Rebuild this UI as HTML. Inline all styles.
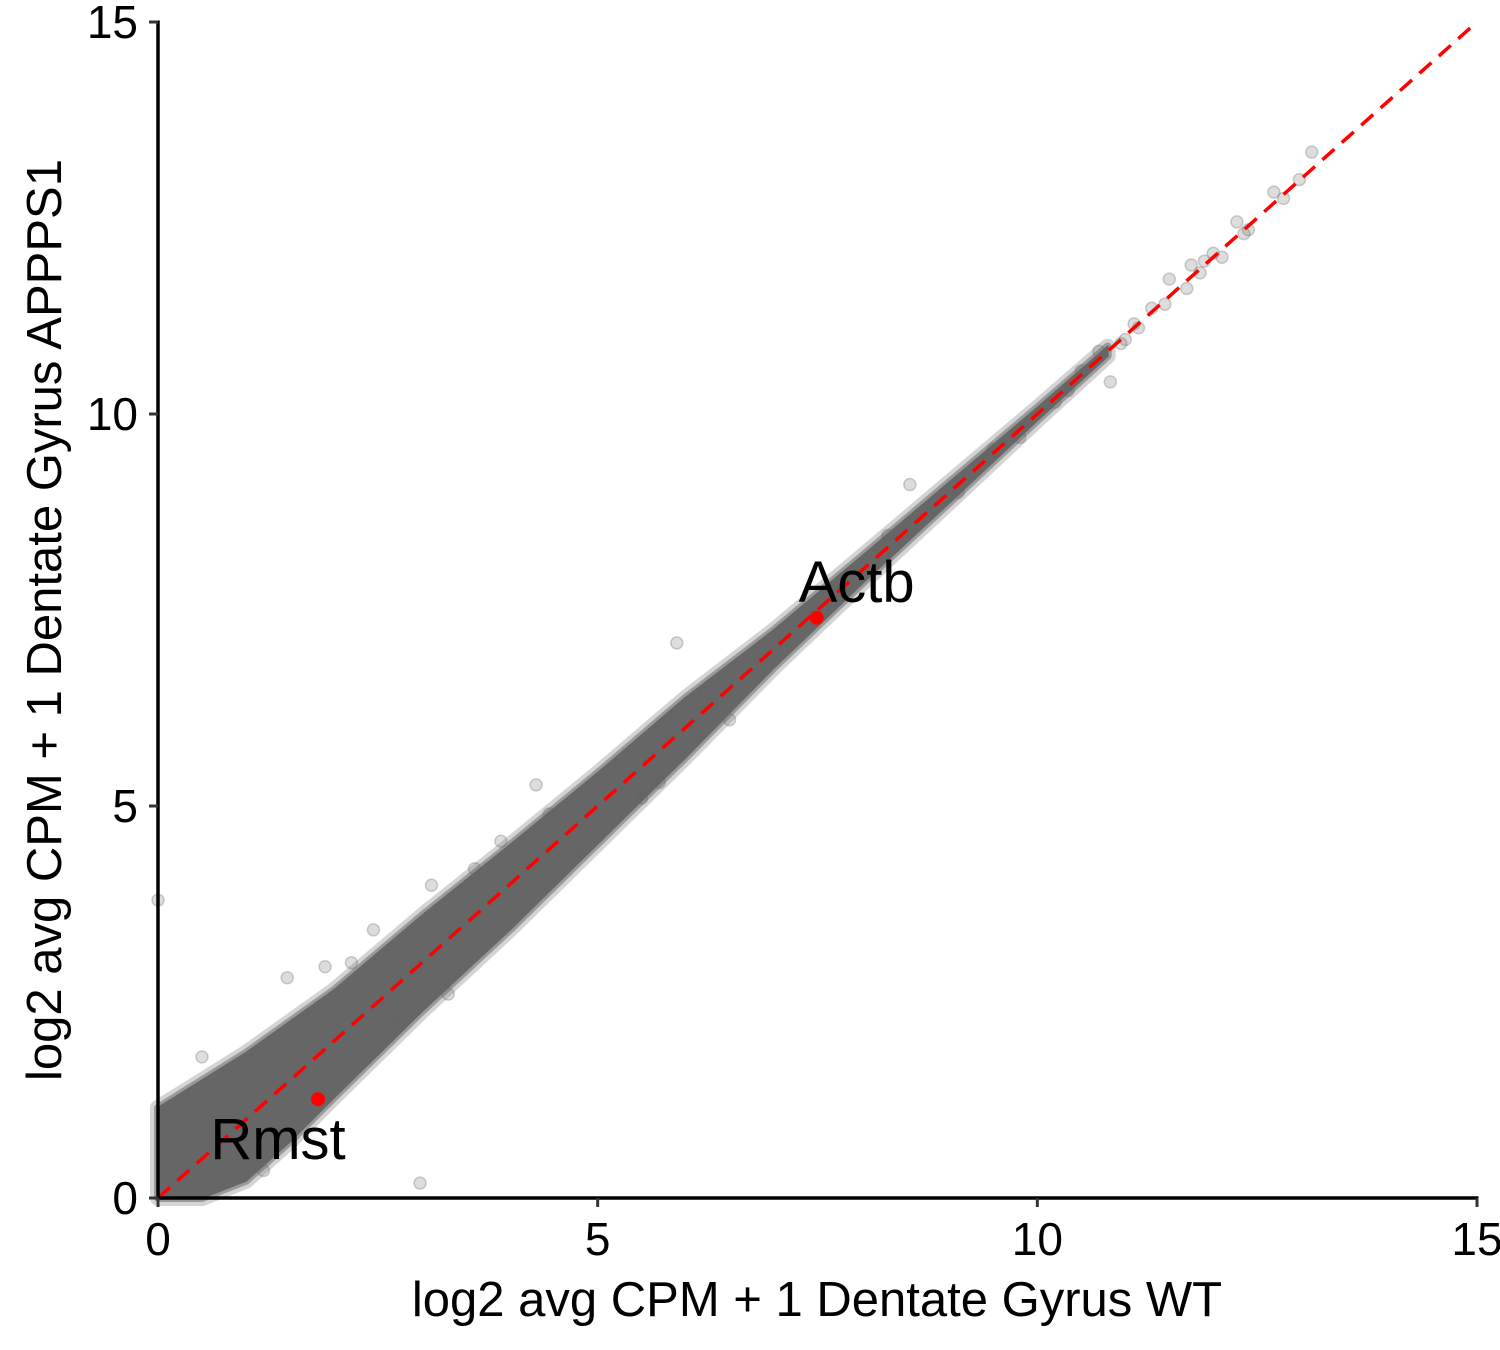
<!DOCTYPE html>
<html><head><meta charset="utf-8"><style>
html,body{margin:0;padding:0;background:#fff;}
svg{display:block;font-family:"Liberation Sans",Arial,sans-serif;}
</style></head><body>
<svg id="chart" width="1500" height="1350" viewBox="0 0 1500 1350" xmlns="http://www.w3.org/2000/svg">
<g id="band"></g>
<g id="pts"></g>
<g id="line"></g>
<g id="hl"></g>
<g id="axes"></g>
</svg>
<script>
// band of dense points: x, lower y, upper y
const bandX  = [0, 0.5, 1, 1.5, 2, 3, 4, 5, 6, 7, 8, 9, 10, 10.8];
const bandLo = [0, 0, 0.22, 0.72, 1.28, 2.38, 3.42, 4.52, 5.62, 6.76, 7.83, 8.87, 9.92, 10.74];
const bandHi = [1.15, 1.5, 1.85, 2.25, 2.65, 3.6, 4.5, 5.42, 6.38, 7.24, 8.18, 9.13, 10.08, 10.86];
// individual sparse / outlier points
const ptX = [0, 2.98, 5.9, 8.55, 10.83, 13.12, 12.69, 12.98, 12.27, 3.11, 2.45, 1.47, 4.3, 11.5, 11.75, 11.0, 10.5, 10.2, 11.3, 12.0, 12.4, 9.5, 9.8, 10.7, 11.9, 8.3, 6.2, 3.6, 2.2, 1.9, 4.8, 0.5, 3.3, 5.5, 7.2, 9.1, 10.35, 11.15, 11.1, 11.45, 11.7, 12.1, 12.35, 12.8, 11.85, 10.95, 4.45, 5.7, 6.5, 2.7, 1.2, 3.9];
const ptY = [3.8, 0.19, 7.08, 9.1, 10.41, 13.34, 12.83, 12.99, 12.45, 3.99, 3.42, 2.81, 5.27, 11.72, 11.9, 10.95, 10.55, 10.15, 11.35, 12.05, 12.35, 9.55, 9.7, 10.8, 11.95, 8.45, 6.45, 4.2, 3.0, 2.95, 4.4, 1.8, 2.6, 5.1, 7.3, 9.0, 10.3, 11.1, 11.15, 11.4, 11.6, 12.0, 12.3, 12.75, 11.8, 10.9, 4.9, 5.3, 6.1, 2.25, 0.35, 4.55];
// highlighted genes
const hlNames = ["Actb", "Rmst"];
const hlX = [7.49, 1.82];
const hlY = [7.40, 1.26];
const xTicks = [0, 5, 10, 15];
const yTicks = [0, 5, 10, 15];

const NS = "http://www.w3.org/2000/svg";
const X0 = 158, X1 = 1477, Y0 = 1198, Y1 = 22;
const sx = v => X0 + (X1 - X0) * v / 15;
const sy = v => Y0 - (Y0 - Y1) * v / 15;
function mk(tag, attrs, parent) {
  const e = document.createElementNS(NS, tag);
  for (const k in attrs) e.setAttribute(k, attrs[k]);
  parent.appendChild(e);
  return e;
}
// band
const band = document.getElementById("band");
let d = "";
bandX.forEach((x, i) => { d += (i ? "L" : "M") + sx(x) + "," + sy(bandHi[i]); });
for (let i = bandX.length - 1; i >= 0; i--) d += "L" + sx(bandX[i]) + "," + sy(bandLo[i]);
d += "Z";
const halo = mk("path", {d: d, fill: "#d6d6d6", stroke: "#d4d4d4", "stroke-width": 16, "stroke-linejoin": "round"}, band);


const mid = mk("path", {d: d, fill: "#999", stroke: "#9a9a9a", "stroke-width": 8, "stroke-linejoin": "round"}, band);


const core = mk("path", {d: d, fill: "#666", stroke: "#666", "stroke-width": 2, "stroke-linejoin": "round"}, band);


// points
const pts = document.getElementById("pts");
ptX.forEach((x, i) => {
  const c = mk("circle", {cx: sx(x), cy: sy(ptY[i]), r: 6, fill: "rgba(102,102,102,0.22)", stroke: "rgba(102,102,102,0.3)", "stroke-width": 1.5}, pts);
  
  
});
// identity line
const lg = document.getElementById("line");
const ln = mk("line", {x1: sx(0), y1: sy(0), x2: sx(15), y2: sy(15), stroke: "#ff0000", "stroke-width": 3.5, "stroke-dasharray": "16,10"}, lg);


// highlights
const hl = document.getElementById("hl");
hlNames.forEach((n, i) => {
  const c = mk("circle", {cx: sx(hlX[i]), cy: sy(hlY[i]), r: 7, fill: "#ff0000"}, hl);
  
  
  const dy = i === 0 ? -16 : 60;
  const dx = i === 0 ? 40 : -40;
  const t = mk("text", {x: sx(hlX[i]) + dx, y: sy(hlY[i]) + dy, "font-size": 58, "text-anchor": "middle", fill: "#000"}, hl);
  t.textContent = n;
  
  
});
// axes
const ax = document.getElementById("axes");
const xl = mk("line", {x1: X0 - 1.5, y1: Y0, x2: X1 + 1.5, y2: Y0, stroke: "#000", "stroke-width": 3.5}, ax);


const yl = mk("line", {x1: X0, y1: Y0 + 1.5, x2: X0, y2: Y1 - 1.5, stroke: "#000", "stroke-width": 3.5}, ax);


xTicks.forEach(v => {
  const tk = mk("line", {x1: sx(v), y1: Y0, x2: sx(v), y2: Y0 + 9, stroke: "#333", "stroke-width": 3}, ax);
  
  
  const t = mk("text", {x: sx(v), y: Y0 + 57, "font-size": 46, "text-anchor": "middle", fill: "#000"}, ax);
  t.textContent = v;
  
  
});
yTicks.forEach(v => {
  const tk = mk("line", {x1: X0 - 9, y1: sy(v), x2: X0, y2: sy(v), stroke: "#333", "stroke-width": 3}, ax);
  
  
  const t = mk("text", {x: X0 - 20, y: sy(v) + 16, "font-size": 46, "text-anchor": "end", fill: "#000"}, ax);
  t.textContent = v;
  
  
});
const xt = mk("text", {x: 817, y: 1316, "font-size": 49, "text-anchor": "middle", fill: "#000"}, ax);
xt.textContent = "log2 avg CPM + 1 Dentate Gyrus WT";


const yt = mk("text", {x: 0, y: 0, "font-size": 49, "text-anchor": "middle", fill: "#000", transform: "translate(61,620) rotate(-90)"}, ax);
yt.textContent = "log2 avg CPM + 1 Dentate Gyrus APPPS1";


</script>
</body></html>
